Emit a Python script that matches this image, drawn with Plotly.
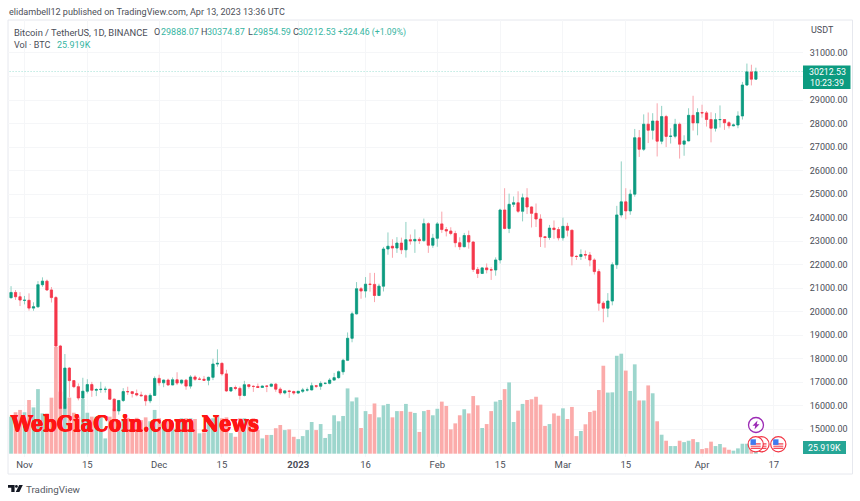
import pandas as pd
import plotly.graph_objects as go

# ---------- data ----------
start_date = "2022-10-29"
closes = [20818,20635,20495,
 20485,20152,20207,21148,21299,20924,20600,18541,15880,17601,17070,16812,16330,16619,16900,16662,16690,16700,16700,16280,15781,16226,16603,16599,16522,16458,16428,16212,16442,17163,
 16978,17092,16885,17105,16966,17089,16836,17224,17128,17128,17085,17209,17774,17803,17356,16632,16777,16739,16438,16895,16824,16821,16778,16837,16832,16919,16706,16547,16633,16607,16542,
 16616,16672,16674,16851,16831,16951,16955,17091,17196,17446,17934,18869,19909,20976,20880,21169,21161,20688,21086,22666,22783,22707,22918,22632,23060,23009,23074,23022,23743,22826,23125,
 23733,23492,23431,23326,22932,22762,23240,22963,21796,21625,21862,21783,21773,22199,24324,23538,24566,24630,24271,24840,24452,24182,23940,23185,23157,23554,23492,23141,
 23629,23465,22354,22346,22430,22409,22197,21705,20362,20150,20455,21997,24113,24670,24285,24998,27395,26907,27972,27717,28105,27250,28295,27454,27462,27968,27124,27261,28348,28028,28465,
 28452,28171,27800,28165,28170,28033,27906,27938,28323,29637,30200,29888,30212.53]
opens = [20595,20818,20635,
 20482,20485,20152,20207,21148,21299,20924,20600,18541,15880,17601,17070,16812,16330,16619,16900,16662,16690,16700,16700,16280,15781,16226,16603,16599,16522,16458,16428,16212,16442,
 17163,16978,17092,16885,17105,16966,17089,16836,17224,17128,17128,17085,17209,17774,17803,17356,16632,16777,16739,16438,16895,16824,16821,16778,16837,16832,16919,16706,16547,16633,16607,
 16542,16616,16672,16674,16851,16831,16951,16955,17091,17196,17446,17934,18869,19909,20976,20880,21169,21161,20688,21086,22666,22783,22707,22918,22632,23060,23009,23074,23022,23743,22826,
 23125,23733,23492,23431,23326,22932,22762,23240,22963,21796,21625,21862,21783,21773,22199,24324,23538,24566,24630,24271,24840,24452,24182,23940,23185,23157,23554,23492,
 23141,23629,23465,22354,22346,22430,22409,22197,21705,20362,20150,20455,21997,24113,24670,24285,24998,27395,26907,27972,27717,28105,27250,28295,27454,27462,27968,27124,27261,28348,28028,
 28465,28452,28171,27800,28165,28170,28033,27906,27938,28323,29637,30200,29888.07]
highs = [21085,20920,20830,
 20670,20780,20400,21300,21460,21365,21050,20670,18590,18200,17650,17090,16950,17190,17130,17015,16750,17020,16820,16720,16310,16235,16750,16810,16610,16690,16600,16480,16530,17250,
 17320,17105,17155,17205,17425,17110,17140,17300,17300,17227,17270,17240,18000,18400,17850,17530,16800,16860,16820,17060,16915,16870,16945,16858,16866,16940,16972,16785,16665,16677,16644,
 16628,16760,16777,16990,16884,17040,16980,17176,17398,17500,18000,19117,20000,21259,21050,21473,21650,21650,21190,22755,23370,23080,23170,23150,23816,23282,23500,23165,23960,23800,23310,
 23812,24255,23600,23590,23440,23165,23350,23450,23010,21900,21900,22050,21890,22310,24380,25250,25020,24900,25120,25020,25250,24480,24600,24140,23220,23690,23880,23600,
 24000,23780,23470,22400,22650,22600,22540,22270,21820,20450,20790,22100,24500,26390,25250,25190,27770,27725,28390,28470,28440,28860,28750,28370,27800,28200,28040,27500,28650,29180,28650,
 28800,28530,28480,28440,28770,28185,28100,28000,28520,29770,30550,30500,30374.87]
lows = [20560,20500,20240,
 20310,20045,20040,20180,21060,20880,20390,17170,15590,15750,16360,16750,16230,15815,16526,16380,16410,16550,16560,16250,15480,15620,16160,16460,16350,16400,16400,16000,16110,16430,
 16855,16790,16860,16880,16880,16905,16680,16730,17060,17090,17070,16870,17090,17660,17280,16585,16585,16660,16260,16400,16730,16590,16755,16760,16580,16791,16592,16470,16487,16333,16470,
 16499,16542,16605,16657,16753,16679,16908,16911,17090,17150,17315,17900,18700,19880,20550,20600,20850,20407,20660,20860,22420,22292,22500,22450,22300,22850,22500,22880,22970,22500,22715,
 22760,23350,23200,23250,22740,22630,22745,22680,21690,21430,21600,21630,21350,21530,22050,23500,23340,24450,24200,23840,24150,23580,23600,22750,22720,23060,23100,23030,
 23020,23200,21970,22200,22200,22250,21930,21580,20040,19550,19765,20270,21820,24000,23930,24120,24890,26580,26830,27170,27320,26600,27120,27000,27150,27370,26510,26630,27250,27700,27500,
 28250,27870,27200,27660,27830,27730,27790,27880,27800,28170,29600,29620,29854.59]
volumes = [160,179,189,179,232,200,279,174,174,242,462,268,216,242,177,160,238,177,160,160,160,66,160,195,138,145,155,150,155,
 145,157,140,189,153,138,138,112,138,153,153,153,150,88,92,153,153,167,153,157,89,73,153,153,145,153,102,66,81,81,110,124,102,105,73,63,
 76,102,137,102,128,68,85,166,140,163,282,226,243,111,184,171,217,157,209,215,157,184,184,215,181,176,94,184,189,166,194,225,206,105,131,166,192,174,249,209,111,128,184,225,232,279,308,137,186,215,232,235,246,212,120,128,174,164,196,150,202,
 76,98,127,180,186,275,380,264,265,423,432,359,271,386,230,230,295,261,140,82,56,33,33,56,50,56,63,50,20,24,52,33,42,27,17,13,23,43,43,30,25.919]
price_ticks = list(range(15000, 32000, 1000))
# the 30000.00 label sits behind the last-price box in the reference, so it stays blank
price_labels = ["" if v == 30000 else f"{v}.00" for v in price_ticks]
date_ticks = ["2022-11-01","2022-11-15","2022-12-01","2022-12-15","2023-01-01","2023-01-16",
              "2023-02-01","2023-02-15","2023-03-01","2023-03-15","2023-04-01","2023-04-17"]
date_labels = ["Nov","15","Dec","15","<b>2023</b>","16","Feb","15","Mar","15","Apr","17"]
last_price = 30212.53
last_volume = "25.919K"
countdown = "10:23:39"

# ---------- style ----------
W, H = 860, 501
L, R, T, B = 8, 57, 20, 44
UP, DOWN = "#0c9b80", "#f5364a"
UP_WICK, DOWN_WICK = "#8fd0c3", "#f9a4ac"
UP_VOL, DOWN_VOL = "#9dd6cd", "#fbabaa"
GRID = "#f5f6f8"
TXT = "#4a4d57"
TEAL = "#36b5a2"
FONT = "Roboto"

def px(x):
    return (x - L) / (W - L - R)
def py(y):
    return (H - B - y) / (H - T - B)

dates = pd.date_range(start_date, periods=len(closes), freq="D")
body_hi = [max(o, c) for o, c in zip(opens, closes)]
body_lo = [min(o, c) for o, c in zip(opens, closes)]
vol_colors = [UP_VOL if c >= o else DOWN_VOL for o, c in zip(opens, closes)]

fig = go.Figure()
fig.add_trace(go.Bar(x=dates, y=volumes, marker=dict(color=vol_colors, line_width=0),
                     yaxis="y", showlegend=False))
fig.add_trace(go.Candlestick(x=dates, open=opens, high=highs, low=lows, close=closes, yaxis="y2",
                             whiskerwidth=0, showlegend=False,
                             increasing=dict(line=dict(color=UP_WICK, width=1), fillcolor=UP_WICK),
                             decreasing=dict(line=dict(color=DOWN_WICK, width=1), fillcolor=DOWN_WICK)))
fig.add_trace(go.Candlestick(x=dates, open=opens, high=body_hi, low=body_lo, close=closes, yaxis="y2",
                             whiskerwidth=0, showlegend=False,
                             increasing=dict(line=dict(color=UP, width=0.6), fillcolor=UP),
                             decreasing=dict(line=dict(color=DOWN, width=0.6), fillcolor=DOWN)))
# last-price line, drawn from the value through the price axis
fig.add_trace(go.Scatter(x=[dates[0] - pd.Timedelta(days=3), dates[-1] + pd.Timedelta(days=12)],
                         y=[last_price, last_price], yaxis="y2", mode="lines", showlegend=False, hoverinfo="skip",
                         line=dict(color="#9fe0d4", width=1, dash="1px,2px")))

ann = []
def text(x, y, s, color=TXT, size=9.0, anchor="left", family=FONT, **kw):
    if anchor == "left":
        x -= 1.5
    ann.append(dict(x=px(x), y=py(y), xref="paper", yref="paper", text=s, showarrow=False,
                    xanchor=anchor, yanchor="middle", font=dict(color=color, size=size, family=family, **kw)))

text(8, 12, "elidambell12 published on TradingView.com, Apr 13, 2023 13:36 UTC", "#4c4f58", 9.05)
text(13.7, 32, "Bitcoin / TetherUS, 1D, BINANCE", TXT, 9.35)
for x, s, c in [(153.7, "O", TXT), (160.3, "29888.07", TEAL), (200.7, "H", TXT), (206.7, "30374.87", TEAL),
                (247.3, "L", TXT), (252.3, "29854.59", TEAL), (292, "C", TXT), (297.7, "30212.53", TEAL)]:
    text(x, 32, s, c, 9)
text(337.7, 32, "+324.46 (+1.09%)", TEAL, 8.7)
text(13.7, 44.7, "Vol · BTC", TXT, 9)
text(56.3, 44.7, last_volume, TEAL, 9)
text(810.5, 30, "USDT", TXT, 9)
text(25, 489, "TradingView", "#555862", 9.8)
text(827, 72.3, f"{last_price:.2f}", "#ffffff", 8.8, "center")
text(827, 83, countdown, "#ffffff", 8.8, "center")
text(824.5, 447.5, last_volume, "#ffffff", 8.8, "center")
text(134, 423, "WebGiaCoin.com News", "#ff1414", 21.5, "center", "DejaVu Serif Condensed", weight=800,
     shadow="0.4px 0 0 #ff1414, -0.4px 0 0 #ff1414, 0 0.5px 0 #ff1414, 0 -0.5px 0 #ff1414")

shapes = [
    dict(type="rect", xref="paper", yref="paper", x0=px(8), x1=px(852.5), y0=py(20), y1=py(474),
         line=dict(color="#e6e8ee", width=1), layer="below"),
    dict(type="rect", xref="paper", yref="paper", x0=px(803), x1=px(850.5), y0=py(65.5), y1=py(89),
         fillcolor="#0c9b80", line_width=0),
    dict(type="rect", xref="paper", yref="paper", x0=px(803), x1=px(846), y0=py(441), y1=py(454),
         fillcolor="#26a696", line_width=0),
    # TradingView logo
    dict(type="path", xref="paper", yref="paper", fillcolor="#131722", line_width=0,
         path="M {} {} L {} {} L {} {} L {} {} L {} {} L {} {} Z".format(
             px(8), py(485), px(14.6), py(485), px(14.6), py(492), px(11.3), py(492), px(11.3), py(487.8), px(8), py(487.8))),
    dict(type="circle", xref="paper", yref="paper", x0=px(15), x1=px(17.8), y0=py(485), y1=py(487.8),
         fillcolor="#131722", line_width=0),
    dict(type="path", xref="paper", yref="paper", fillcolor="#131722", line_width=0,
         path="M {} {} L {} {} L {} {} L {} {} Z".format(px(19.2), py(485), px(22.8), py(485), px(19.4), py(492), px(15.8), py(492))),
]

def flag(cx, cy):
    r = 7.6
    out = [dict(type="circle", xref="paper", yref="paper", x0=px(cx-r), x1=px(cx+r), y0=py(cy-r), y1=py(cy+r),
                fillcolor="#ffffff", line=dict(color="#f23645", width=1.2))]
    for a, b in [(-1.0, 0.2), (1.4, 2.4), (3.4, 4.6)]:
        out.append(dict(type="rect", xref="paper", yref="paper", x0=px(cx-5), x1=px(cx+5), y0=py(cy+a), y1=py(cy+b),
                        fillcolor="#f23645", line_width=0))
    out.append(dict(type="rect", xref="paper", yref="paper", x0=px(cx-5.2), x1=px(cx+0.2), y0=py(cy-5), y1=py(cy+0.6),
                    fillcolor="#3d7bf0", line_width=0))
    return out

shapes += flag(761.5, 444.3) + flag(755.7, 444.3) + flag(778.3, 444.3)
shapes.append(dict(type="circle", xref="paper", yref="paper", x0=px(748.5), x1=px(763.5), y0=py(417.5), y1=py(432.5),
                   fillcolor="#ffffff", line=dict(color="#9c2bb5", width=1.3)))
shapes.append(dict(type="path", xref="paper", yref="paper", fillcolor="#9c2bb5", line_width=0,
                   path="M {} {} L {} {} L {} {} L {} {} L {} {} L {} {} Z".format(
                       px(757.5), py(420.5), px(752.5), py(425.8), px(755.2), py(425.8),
                       px(754.5), py(429.5), px(759.5), py(424.2), px(756.8), py(424.2))))

fig.update_layout(
    width=W, height=H, margin=dict(l=L, r=R, t=T, b=B, autoexpand=False),
    paper_bgcolor="#ffffff", plot_bgcolor="#ffffff", bargap=0.17, showlegend=False,
    font=dict(family=FONT, color=TXT, size=9),
    xaxis=dict(type="date", range=["2022-10-28 07:40", "2023-04-23 12:00"], rangeslider=dict(visible=False),
               tickmode="array", tickvals=date_ticks, ticktext=date_labels, showgrid=True, gridcolor=GRID, gridwidth=1,
               showline=False, zeroline=False, ticks="", tickfont=dict(size=9.5, color=TXT, family=FONT)),
    yaxis=dict(range=[-14.3, 1873.6], visible=False, showgrid=False, zeroline=False),
    yaxis2=dict(range=[13822, 32402], overlaying="y", side="right", tickmode="array", tickvals=price_ticks,
                ticktext=price_labels, showgrid=True, gridcolor=GRID, gridwidth=1, zeroline=False, showline=False,
                ticks="outside", ticklen=4, tickcolor="rgba(0,0,0,0)", tickfont=dict(size=9, color=TXT, family=FONT)),
    annotations=ann, shapes=shapes,
)
assert all(len(a) == len(closes) for a in (opens, highs, lows, volumes))
fig.write_html("out.html", post_script="document.body.style.margin='0';", config=dict(displayModeBar=False))
